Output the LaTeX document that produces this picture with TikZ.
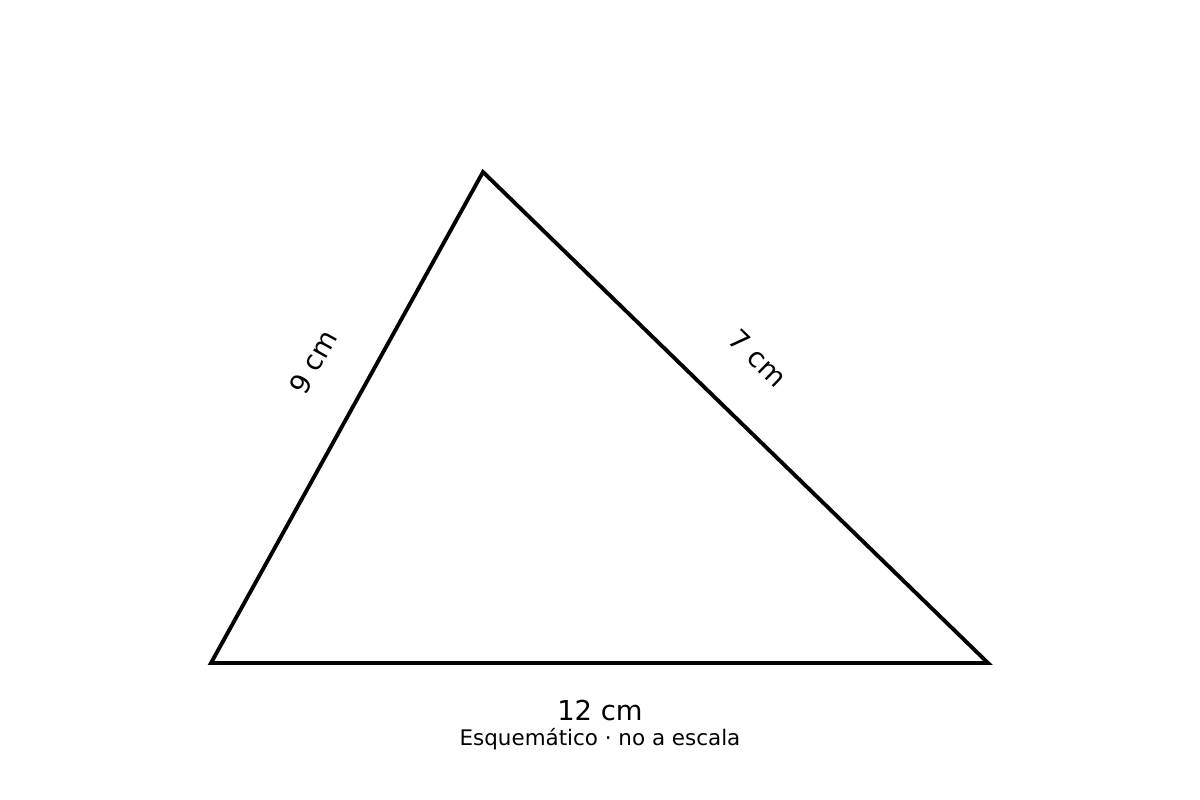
\documentclass[tikz,border=0pt]{standalone}
\usepackage{fontspec}
\setmainfont{DejaVu Sans}

\begin{document}
\begin{tikzpicture}[lado/.style={font=\fontsize{7.8}{9}\selectfont,inner sep=0pt},
                    nota/.style={font=\fontsize{6.1}{7}\selectfont,inner sep=0pt}]
                \useasboundingbox (0,0) rectangle (12,8);
                \coordinate (A) at (2.11,1.37);
                \coordinate (B) at (9.88,1.37);
                \coordinate (C) at (4.83,6.28);
                \draw[line width=1.1pt,line join=miter] (A)--(B)--(C)--cycle;
                \node[lado,rotate=60.9] (ladoAC) at (3.13,4.38) {9 cm};
                \node[lado,rotate=-44.2] (ladoBC) at (7.58,4.42) {7 cm};
                \node[lado] (ladoAB) at (6.00,0.89) {12 cm};
                \node[nota] (escala) at (6.00,0.61) {Esquemático · no a escala};
            \end{tikzpicture}
\end{document}
